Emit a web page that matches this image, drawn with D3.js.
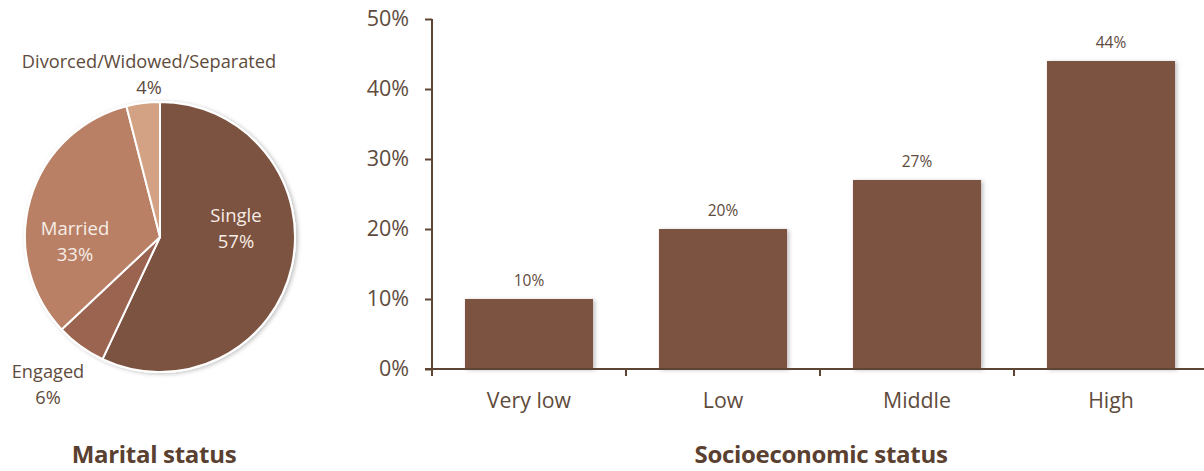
<!DOCTYPE html>
<html>
<head>
<meta charset="utf-8">
<script src="https://cdn.jsdelivr.net/npm/d3@7/dist/d3.min.js"></script>
<style>
  html, body { margin: 0; padding: 0; background: #fff; }
  svg { display: block; font-family: "Open Sans", "Noto Sans", sans-serif; }
</style>
</head>
<body>
<svg id="chart" width="1204" height="471"></svg>
<script>
// Marital status (share of respondents, %)
const maritalLabels = ["Single", "Engaged", "Married", "Divorced/Widowed/Separated"];
const maritalValues = [57, 6, 33, 4];
const maritalColors = ["#7c5240", "#9b6450", "#b98066", "#d3a184"];

// Socioeconomic status (share of respondents, %)
const sesCategories = ["Very low", "Low", "Middle", "High"];
const sesValues = [10, 20, 27, 44];
const yTicks = [0, 10, 20, 30, 40, 50];

const textDark = "#5e4b3c";
const axisColor = "#5e4533";
const svg = d3.select("#chart");

const defs = svg.append("defs");
const shadow = defs.append("filter").attr("id", "shadow")
  .attr("x", "-10%").attr("y", "-10%").attr("width", "130%").attr("height", "130%");
shadow.append("feDropShadow").attr("dx", 2).attr("dy", 1).attr("stdDeviation", 2)
  .attr("flood-color", "#000").attr("flood-opacity", 0.25);

// ---------- Pie: marital status ----------
const cx = 160, cy = 237, radius = 135;
const pieGroup = svg.append("g").attr("transform", `translate(${cx},${cy})`);
const pie = d3.pie().sort(null).value(d => d.value);
const arcs = pie(maritalLabels.map((l, i) => ({ label: l, value: maritalValues[i], color: maritalColors[i] })));
const arc = d3.arc().innerRadius(0).outerRadius(radius);

pieGroup.append("circle").attr("r", radius + 1).attr("fill", "#fff")
  .attr("filter", "url(#shadow)");
pieGroup.selectAll("path.slice").data(arcs).join("path")
  .attr("class", "slice")
  .attr("d", arc)
  .attr("fill", d => d.data.color)
  .attr("stroke", "#fff")
  .attr("stroke-width", 2)
  .attr("stroke-linejoin", "round");

// In-slice labels
const inside = [
  { i: 0, x: 76, y: -15 },
  { i: 2, x: -85, y: -2 }
];
inside.forEach(p => {
  const d = arcs[p.i];
  const t = pieGroup.append("text").attr("text-anchor", "middle")
    .attr("fill", "#f7ede6").attr("font-size", 18.5);
  t.append("tspan").attr("x", p.x).attr("y", p.y).text(d.data.label);
  t.append("tspan").attr("x", p.x).attr("y", p.y + 26).text(d3.format(".0f")(d.data.value) + "%");
});

// Outside labels
const outside = [
  { i: 3, x: 149, y: 68 },
  { i: 1, x: 48, y: 378 }
];
outside.forEach(p => {
  const d = arcs[p.i];
  const t = svg.append("text").attr("text-anchor", "middle")
    .attr("fill", textDark).attr("font-size", 18.2);
  t.append("tspan").attr("x", p.x).attr("y", p.y).text(d.data.label);
  t.append("tspan").attr("x", p.x).attr("y", p.y + 26).text(d3.format(".0f")(d.data.value) + "%");
});

svg.append("text").attr("x", 154).attr("y", 463).attr("text-anchor", "middle")
  .attr("fill", "#5a4030").attr("font-size", 24).attr("font-weight", "bold")
  .attr("letter-spacing", -0.3)
  .text("Marital status");

// ---------- Bars: socioeconomic status ----------
const x0 = 432, x1 = 1208, yTop = 19, yBottom = 369;
const x = d3.scaleBand().domain(sesCategories).range([x0, x1]).paddingInner(0.34).paddingOuter(0.17);
const y = d3.scaleLinear().domain([0, 50]).range([yBottom, yTop]);

const bars = svg.append("g");
bars.selectAll("rect").data(sesCategories).join("rect")
  .attr("x", d => x(d))
  .attr("y", (d, i) => y(sesValues[i]))
  .attr("width", x.bandwidth())
  .attr("height", (d, i) => y(0) - y(sesValues[i]))
  .attr("fill", "#7c5240")
  .attr("filter", "url(#shadow)");

bars.selectAll("text").data(sesCategories).join("text")
  .attr("x", d => x(d) + x.bandwidth() / 2)
  .attr("y", (d, i) => y(sesValues[i]) - 13)
  .attr("text-anchor", "middle")
  .attr("fill", textDark)
  .attr("font-size", 15.5)
  .text((d, i) => sesValues[i] + "%");

// Y axis
const yAxis = svg.append("g").attr("transform", `translate(${x0},0)`)
  .call(d3.axisLeft(y).tickValues(yTicks).tickFormat(d => d + "%").tickSize(7).tickPadding(16));
yAxis.select(".domain").attr("stroke", axisColor).attr("stroke-width", 2).attr("d", `M0,${yTop}V${yBottom}`);
yAxis.selectAll(".tick line").attr("stroke", axisColor).attr("stroke-width", 2);
yAxis.selectAll(".tick text").attr("fill", textDark).attr("font-size", 21.5)
  .attr("font-family", "'Open Sans', sans-serif");

// X axis with ticks at category boundaries
const xAxisG = svg.append("g").attr("transform", `translate(0,${yBottom})`);
xAxisG.append("line").attr("x1", x0 - 7).attr("x2", 1204).attr("y1", 0).attr("y2", 0)
  .attr("stroke", axisColor).attr("stroke-width", 2);
const step = x.step();
const boundaries = sesCategories.map((d, i) => x0 + i * step);
xAxisG.selectAll("line.tick").data(boundaries).join("line")
  .attr("class", "tick")
  .attr("x1", d => d).attr("x2", d => d).attr("y1", 0).attr("y2", 7)
  .attr("stroke", axisColor).attr("stroke-width", 2);
xAxisG.selectAll("text").data(sesCategories).join("text")
  .attr("x", d => x(d) + x.bandwidth() / 2)
  .attr("y", 39)
  .attr("text-anchor", "middle")
  .attr("fill", textDark)
  .attr("font-size", 21.3)
  .text(d => d);

svg.append("text").attr("x", 821).attr("y", 463).attr("text-anchor", "middle")
  .attr("fill", "#5a4030").attr("font-size", 24).attr("font-weight", "bold")
  .attr("letter-spacing", -0.3)
  .text("Socioeconomic status");
</script>
</body>
</html>
